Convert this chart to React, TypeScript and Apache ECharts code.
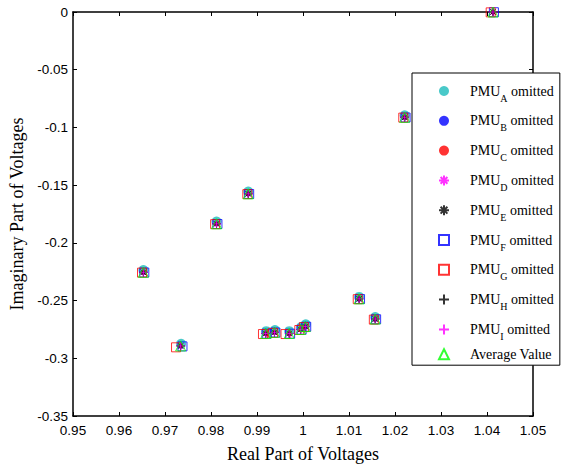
import React, { useEffect, useRef } from 'react';
import * as echarts from 'echarts';

// Tick range
const xMin = 0.95;
const xMax = 1.05;
const xStep = 0.01;
const yMin = -0.35;
const yMax = 0;
const yStep = 0.05;

// Series names (legend order)
const seriesNames = [
  'PMU_A omitted',
  'PMU_B omitted',
  'PMU_C omitted',
  'PMU_D omitted',
  'PMU_E omitted',
  'PMU_F omitted',
  'PMU_G omitted',
  'PMU_H omitted',
  'PMU_I omitted',
  'Average Value',
];

// Average values (real / imaginary) at 13 buses
const avgReal = [1.0413, 1.0221, 0.9881, 0.9812, 0.9653, 0.9734, 0.9919, 0.9938, 0.997, 0.9995, 1.0005, 1.0122, 1.0157];
const avgImag = [0, -0.0912, -0.1575, -0.1835, -0.2255, -0.2893, -0.2785, -0.2775, -0.2785, -0.275, -0.2725, -0.2485, -0.266];

// PMU A omitted (slightly higher)
const pmuAReal = [1.0413, 1.0221, 0.9881, 0.9812, 0.9653, 0.9735, 0.992, 0.9939, 0.997, 0.9996, 1.0006, 1.0122, 1.0157];
const pmuAImag = [0.0005, -0.0895, -0.1555, -0.1815, -0.2235, -0.2875, -0.2765, -0.2755, -0.2765, -0.273, -0.2705, -0.2468, -0.2642];

// PMU G omitted (slightly to the left)
const pmuGReal = [1.0408, 1.0218, 0.9879, 0.9809, 0.965, 0.9724, 0.9913, 0.9935, 0.9962, 0.9992, 1.0002, 1.0119, 1.0154];
const pmuGImag = [-0.0003, -0.0915, -0.1578, -0.1838, -0.2258, -0.2905, -0.279, -0.278, -0.279, -0.2755, -0.273, -0.2488, -0.2665];

// PMU F omitted (slightly to the right)
const pmuFReal = [1.0415, 1.0223, 0.9883, 0.9814, 0.9655, 0.9738, 0.9921, 0.994, 0.9972, 0.9997, 1.0007, 1.0124, 1.0159];
const pmuFImag = [-0.0002, -0.0914, -0.1577, -0.1837, -0.2257, -0.2897, -0.2787, -0.2777, -0.2787, -0.2752, -0.2727, -0.2487, -0.2662];

const pairs = (re: number[], im: number[]) => re.map((r, i) => [r, im[i]]);

const plusPath = 'path://M5,0L5,10M0,5L10,5';
const starPath = 'path://M5,0L5,10M0,5L10,5M1.6,1.6L8.4,8.4M8.4,1.6L1.6,8.4';

export default function App() {
  const ref = useRef<HTMLDivElement>(null);
  useEffect(() => {
    if (!ref.current) return;
    const chart = echarts.init(ref.current, null, { renderer: 'svg' });

    const serif = 'Liberation Serif, Times New Roman, serif';
    const sans = 'Liberation Sans, Arial, sans-serif';

    const mk = (
      name: string,
      data: number[][],
      symbol: string,
      size: number,
      itemStyle: any
    ) => ({
      name,
      type: 'scatter',
      data,
      symbol,
      symbolSize: size,
      symbolKeepAspect: true,
      itemStyle,
      xAxisIndex: 0,
      yAxisIndex: 0,
    });

    const hollow = (c: string, w = 1) => ({ color: 'transparent', borderColor: c, borderWidth: w });

    const series = [
      mk(seriesNames[0], pairs(pmuAReal, pmuAImag), 'circle', 10, { color: '#1cbcbc' }),
      mk(seriesNames[1], pairs(avgReal, avgImag), 'circle', 5, { color: '#0000ff' }),
      mk(seriesNames[2], pairs(avgReal, avgImag), 'circle', 5, { color: '#ff0000' }),
      mk(seriesNames[3], pairs(avgReal, avgImag), starPath, 9, hollow('#ff00ff')),
      mk(seriesNames[4], pairs(avgReal, avgImag), starPath, 8, hollow('#000000')),
      mk(seriesNames[5], pairs(pmuFReal, pmuFImag), 'rect', 9, hollow('#0000ff')),
      mk(seriesNames[6], pairs(pmuGReal, pmuGImag), 'rect', 9, hollow('#ff0000')),
      mk(seriesNames[7], pairs(avgReal, avgImag), plusPath, 8, hollow('#000000')),
      mk(seriesNames[8], pairs(avgReal, avgImag), plusPath, 8, hollow('#ff00ff')),
      mk(seriesNames[9], pairs(avgReal, avgImag), 'triangle', 10, hollow('#00ff00')),
    ];

    const axisLine = { show: true, onZero: false, lineStyle: { color: '#000', width: 1.5 } };
    const axisTick = { show: true, inside: true, length: 4, lineStyle: { color: '#000', width: 1 } };

    chart.setOption({
      animation: false,
      backgroundColor: '#fff',
      grid: { left: 68, right: 30, top: 12, bottom: 51, containLabel: false },
      xAxis: [
        {
          type: 'value',
          min: xMin,
          max: xMax,
          interval: xStep,
          axisLine,
          axisTick,
          splitLine: { show: false },
          axisLabel: { color: '#000', fontFamily: sans, fontSize: 13.5, margin: 7 },
          name: 'Real Part of Voltages',
          nameLocation: 'middle',
          nameGap: 29,
          nameTextStyle: { color: '#000', fontFamily: serif, fontSize: 18 },
        },
        {
          type: 'value',
          position: 'top',
          min: xMin,
          max: xMax,
          interval: xStep,
          axisLine,
          axisTick,
          splitLine: { show: false },
          axisLabel: { show: false },
        },
      ],
      yAxis: [
        {
          type: 'value',
          min: yMin,
          max: yMax,
          interval: yStep,
          axisLine,
          axisTick,
          splitLine: { show: false },
          axisLabel: { color: '#000', fontFamily: sans, fontSize: 13.5, margin: 5 },
          name: 'Imaginary Part of Voltages',
          nameLocation: 'middle',
          nameGap: 47,
          nameTextStyle: { color: '#000', fontFamily: serif, fontSize: 18 },
        },
        {
          type: 'value',
          position: 'right',
          min: yMin,
          max: yMax,
          interval: yStep,
          axisLine,
          axisTick,
          splitLine: { show: false },
          axisLabel: { show: false },
        },
      ],
      legend: {
        orient: 'vertical',
        left: 412,
        top: 73,
        padding: [6, 6, 4, 26],
        itemWidth: 10,
        itemHeight: 10,
        itemGap: 5.8,
        symbolKeepAspect: true,
        backgroundColor: '#fff',
        borderColor: '#000',
        borderWidth: 1,
        borderRadius: 0,
        data: seriesNames,
        formatter: (name: string) => {
          const m = name.match(/^PMU_(\w) (.*)$/);
          if (m) return `{f|PMU}{s|${m[1]}}{m| ${m[2]}}`;
          return `{f|${name}}`;
        },
        textStyle: {
          color: '#000',
          fontFamily: serif,
          fontSize: 14,
          rich: {
            f: { color: '#000', fontFamily: serif, fontSize: 14, lineHeight: 24, padding: [0, 0, 0, 16] },
            m: { color: '#000', fontFamily: serif, fontSize: 14, lineHeight: 24 },
            s: { color: '#000', fontFamily: serif, fontSize: 10, lineHeight: 10, padding: [14, 0, 0, 0] },
          },
        },
      },
      series,
    });
    return () => chart.dispose();
  }, []);

  return (
    <div
      ref={ref}
      style={{ position: 'fixed', left: 0, top: 0, width: 563, height: 468 }}
    />
  );
}
